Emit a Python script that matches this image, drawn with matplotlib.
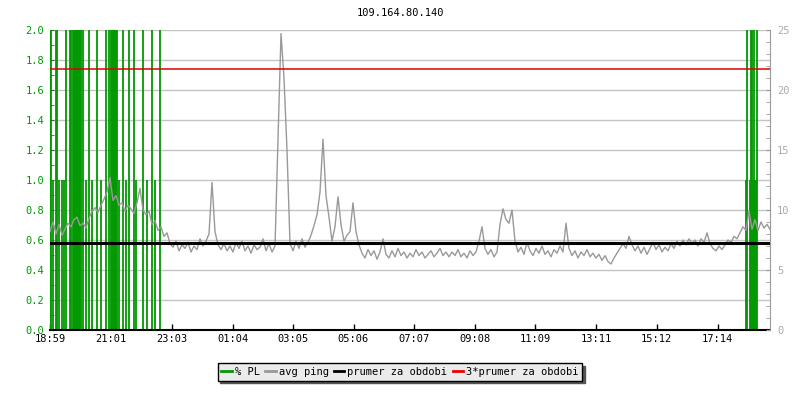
import numpy as np
import matplotlib
matplotlib.use("Agg")
import matplotlib.pyplot as plt
from matplotlib.lines import Line2D

title = "109.164.80.140"

# avg ping in ms, one sample every 6 minutes starting 18:59
ping_ms = [
    8.2, 9.0, 8.0, 8.8, 7.9, 8.4, 8.9, 8.6, 9.2, 9.4,
    8.7, 8.9, 8.5, 9.3, 9.9, 10.2, 9.8, 10.4, 10.9, 11.5,
    12.7, 10.8, 11.2, 10.4, 10.6, 9.9, 10.4, 10.1, 9.7, 10.6,
    11.8, 10.0, 9.6, 9.9, 8.8, 9.1, 8.3, 8.6, 7.8, 8.1,
    7.2, 6.9, 7.4, 6.6, 7.1, 6.8, 7.3, 6.5, 7.0, 6.7,
    7.6, 7.0, 7.4, 8.0, 12.3, 8.2, 7.1, 6.7, 7.2, 6.6,
    7.0, 6.5, 7.3, 6.8, 7.4, 6.6, 7.0, 6.4, 7.1, 6.7,
    6.9, 7.6, 6.6, 7.2, 6.5, 7.0, 16.0, 24.7, 21.0, 15.0,
    7.2, 6.6, 7.4, 6.8, 7.6, 6.9, 7.3, 7.9, 8.7, 9.6,
    11.5, 15.9, 11.2, 9.4, 7.4, 8.6, 11.1, 8.8, 7.4, 7.9,
    8.2, 10.6, 8.2, 7.1, 6.4, 6.0, 6.7, 6.2, 6.6, 5.9,
    6.5, 7.6, 6.3, 6.0, 6.6, 6.1, 6.8, 6.2, 6.5, 6.0,
    6.4, 6.1, 6.7, 6.2, 6.5, 6.0, 6.3, 6.6, 6.1, 6.4,
    6.8, 6.2, 6.5, 6.1, 6.5, 6.2, 6.7, 6.1, 6.4, 6.0,
    6.6, 6.2, 6.5, 7.4, 8.6, 6.8, 6.3, 6.7, 6.1, 6.5,
    8.8, 10.1, 9.2, 8.9, 10.0, 7.4, 6.5, 6.9, 6.3, 7.3,
    6.6, 6.2, 6.8, 6.4, 7.0, 6.3, 6.6, 6.1, 6.7, 6.4,
    7.0, 6.5, 8.9, 6.8, 6.2, 6.6, 6.0, 6.5, 6.2, 6.7,
    6.1, 6.4, 6.0, 6.3, 5.8, 6.2, 5.7, 5.5, 6.0, 6.4,
    6.8, 7.2, 6.8, 7.8, 7.1, 6.6, 7.0, 6.4, 6.9, 6.3,
    6.8, 7.3, 6.7, 7.1, 6.5, 6.9, 6.6, 7.2, 6.8, 7.4,
    7.0, 7.5, 7.1, 7.6, 7.2, 7.5, 7.0, 7.6, 7.3, 8.1,
    7.2, 6.8, 6.6, 7.0, 6.7, 7.1, 7.5, 7.3, 7.8, 7.6,
    8.1, 8.6, 8.3, 9.9, 8.4, 9.2, 8.3, 9.0, 8.5, 8.8,
    8.4,
]
sample_step_min = 6

# packet loss events: minutes after 18:59 and % loss
pl_minutes = [0, 2, 12, 14, 32, 40, 42, 46, 48, 50, 52, 54, 56, 58, 60, 62, 66,
              78, 94, 112, 118, 122, 124, 126, 128, 130, 132, 134, 146, 158,
              168, 186, 204, 220, 1394, 1402, 1404, 1408, 1414,
              6, 18, 24, 28, 72, 84, 102, 138, 152, 172, 194, 210,
              1392, 1400, 1406, 1410, 1412]
pl_percent = [4.0] * 39 + [1.0] * 17

avg_ping_ms = 7.25

tick_minutes = [0, 122, 244, 365, 486, 607, 728, 849, 970, 1092, 1213, 1335]
tick_labels = ["18:59", "21:01", "23:03", "01:04", "03:05", "05:06",
               "07:07", "09:08", "11:09", "13:11", "15:12", "17:14"]

green = "#009900"
gray = "#999999"
mono = "DejaVu Sans Mono"

fig = plt.figure(figsize=(8, 4), dpi=100)
ax = fig.add_axes([0.0625, 0.175, 0.9, 0.75])
ax2 = ax.twinx()

t = np.arange(len(ping_ms)) * sample_step_min

# left axis: packet loss
ax.set_ylim(0, 2.0)
ax.set_xlim(0, 1440)
ax.set_yticks(np.arange(0, 2.01, 0.2))
ax.set_yticklabels([f"{v:.1f}" for v in np.arange(0, 2.01, 0.2)],
                   fontfamily=mono, fontsize=7.5, color=green)
ax.set_yticks(np.arange(0.1, 2.0, 0.2), minor=True)
ax.yaxis.grid(True, color="#c4c4c4", linewidth=1.0)
ax.set_axisbelow(True)
ax.vlines(pl_minutes, 0, pl_percent, colors=green, linewidth=1.3, zorder=2)
ax.tick_params(axis="y", which="both", direction="in", length=3, color="#336633", pad=4)
ax.set_xticks(tick_minutes)
ax.set_xticklabels(tick_labels, fontfamily=mono, fontsize=7.5)
ax.tick_params(axis="x", direction="in", length=4, width=1, color="black", pad=3)
ax.spines["top"].set_visible(False)
ax.spines["right"].set_visible(False)
ax.spines["left"].set_color(green)
ax.spines["bottom"].set_color("black")
ax.spines["bottom"].set_linewidth(1.5)

# right axis: ping
ax2.set_ylim(0, 25)
ax2.set_xlim(0, 1440)
ax2.plot(t, ping_ms, color=gray, linewidth=1.0, zorder=3)
ax2.axhline(avg_ping_ms, color="black", linewidth=2.2, zorder=4)
ax2.axhline(3 * avg_ping_ms, color="#dd0000", linewidth=1.1, zorder=4)
ax2.set_yticks(np.arange(0, 26, 5))
ax2.set_yticklabels([str(v) for v in range(0, 26, 5)], fontfamily=mono,
                    fontsize=7.5, color="#aaaaaa")
ax2.set_yticks(np.arange(0, 26, 1), minor=True)
ax2.tick_params(axis="y", which="both", direction="in", length=3, color="#999999", pad=5)
ax2.spines["top"].set_visible(False)
ax2.spines["left"].set_visible(False)
ax2.spines["bottom"].set_visible(False)
ax2.spines["right"].set_color("#999999")

fig.text(0.5, 1 - 13 / 400, title, ha="center", va="center",
         fontfamily=mono, fontsize=7.5)

handles = [Line2D([], [], color=green, linewidth=2),
           Line2D([], [], color=gray, linewidth=2),
           Line2D([], [], color="black", linewidth=2),
           Line2D([], [], color="#ee0000", linewidth=2)]
labels = ["% PL", "avg ping", "prumer za obdobi", "3*prumer za obdobi"]
leg = fig.legend(handles, labels, loc="center", bbox_to_anchor=(0.5, 1 - 372 / 400),
                 ncol=4, frameon=True, fancybox=False, shadow={"color": "#555555", "alpha": 1},
                 facecolor="#ebebeb", edgecolor="black", framealpha=1,
                 handlelength=1.0, handletextpad=0.3, columnspacing=0.5,
                 borderpad=0.35, borderaxespad=0,
                 prop={"family": mono, "size": 7.5})
leg.get_frame().set_linewidth(1.0)

fig.savefig("out.png", dpi=100)
